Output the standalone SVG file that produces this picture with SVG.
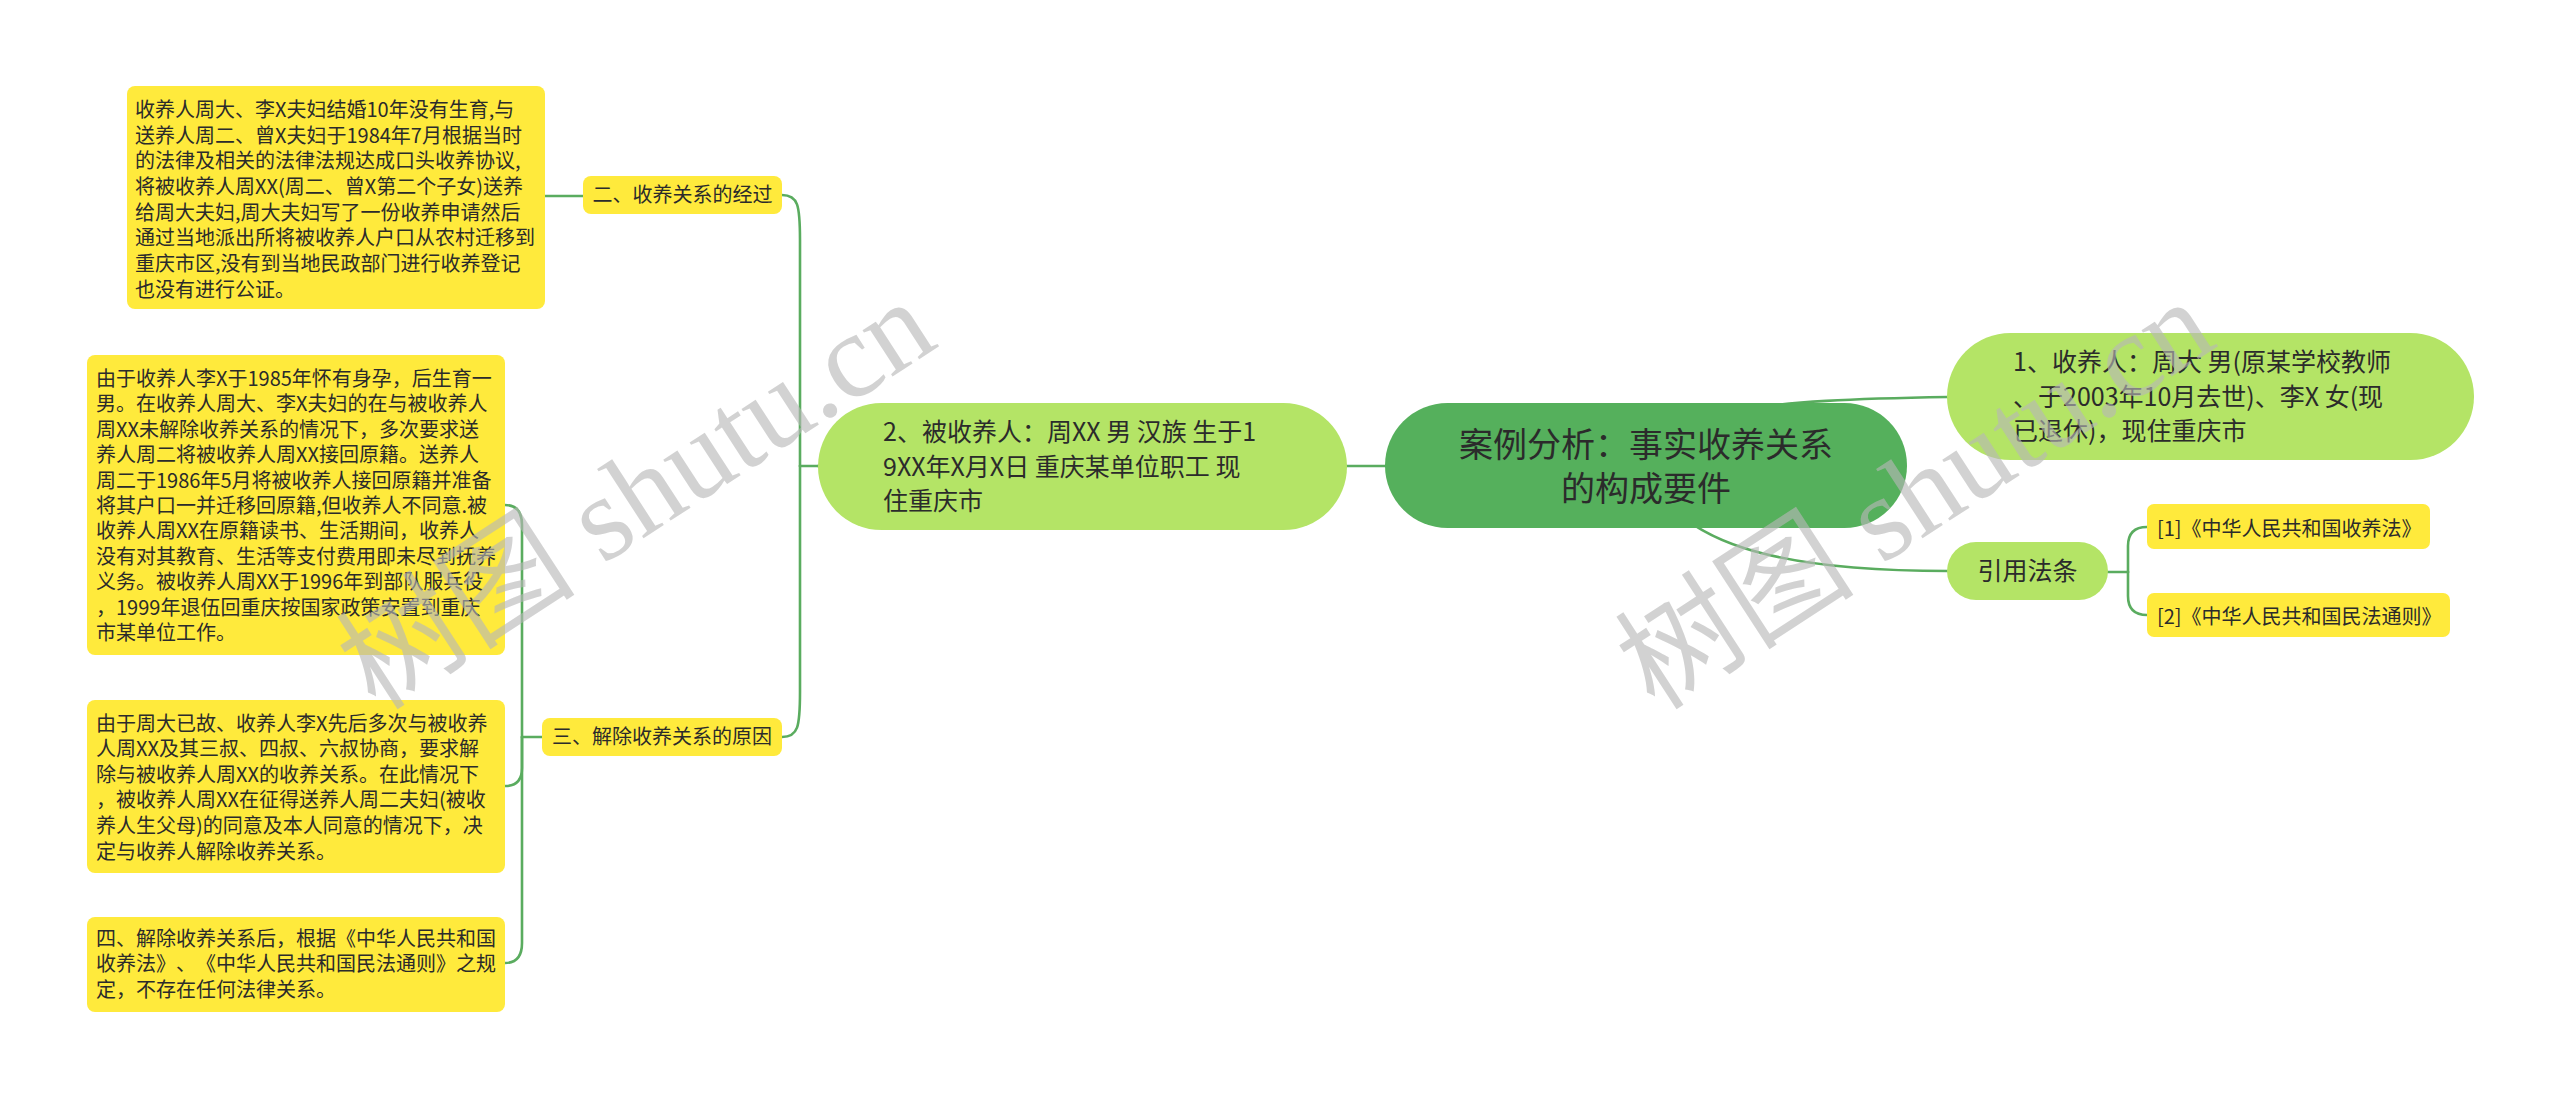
<svg xmlns="http://www.w3.org/2000/svg" width="2560" height="1099" viewBox="0 0 2560 1099">
<style>
text{font-family:"Noto Sans CJK SC","Noto Sans",sans-serif;fill:#2b2b2b;text-spacing-trim:space-all}
.conn{fill:none;stroke:#5aac5f;stroke-width:2.6;stroke-linecap:round}
.root{fill:#55b05c}
.lg{fill:#b4e466}
.yl{fill:#ffea3c}
.t20{font-size:20px}
.t25{font-size:25px}
.t34{font-size:34px}
.wm{font-family:"Liberation Serif","Noto Sans CJK SC",serif;font-size:120px;fill:#b8b8b8;opacity:0.62}
</style>
<rect width="2560" height="1099" fill="#ffffff"/>
<g id="connectors">
<path class="conn" d="M1646 466 L818 466"/>
<path class="conn" d="M1646 465 C1680 408 1760 400 1948 397"/>
<path class="conn" d="M1646 465 C1672 545 1780 571 1948 571"/>
<path class="conn" d="M818 466 L800 466"/>
<path class="conn" d="M800 466 L800 240 C800 205 798 195 782 195"/>
<path class="conn" d="M800 466 L800 692 C800 727 798 737 782 737"/>
<path class="conn" d="M583 196 L545 196"/>
<path class="conn" d="M542 737 L522 737"/>
<path class="conn" d="M522 737 L522 525 Q522 505 505 505"/>
<path class="conn" d="M522 737 L522 768 Q522 786 505 786"/>
<path class="conn" d="M522 737 L522 943 Q522 963 505 963"/>
<path class="conn" d="M2108 572 L2128 572"/>
<path class="conn" d="M2128 572 L2128 546 Q2128 527 2147 527"/>
<path class="conn" d="M2128 572 L2128 596 Q2128 615 2147 615"/>
</g>
<g id="root">
<rect class="root" x="1385" y="403" width="522" height="125" rx="62.5"/>
<text class="t34" x="1646" y="457" text-anchor="middle">案例分析：事实收养关系</text>
<text class="t34" x="1646" y="501" text-anchor="middle">的构成要件</text>
</g>
<g id="node-shouyangren">
<rect class="lg" x="1947" y="333" width="527" height="127" rx="63.5"/>
<text class="t25" x="2013" y="371">1、收养人：周大 男(原某学校教师</text>
<text class="t25" x="2013" y="405.5">、于2003年10月去世)、李X 女(现</text>
<text class="t25" x="2013" y="440">已退休)，现住重庆市</text>
</g>
<g id="node-beishouyangren">
<rect class="lg" x="818" y="403" width="529" height="127" rx="63.5"/>
<text class="t25" x="883" y="441">2、被收养人：周XX 男 汉族 生于1</text>
<text class="t25" x="883" y="475.5">9XX年X月X日 重庆某单位职工 现</text>
<text class="t25" x="883" y="510">住重庆市</text>
</g>
<g id="node-yinyong">
<rect class="lg" x="1947" y="542" width="161" height="58" rx="29"/>
<text class="t25" x="2027.5" y="580" text-anchor="middle">引用法条</text>
</g>
<g id="node-law1">
<rect class="yl" x="2147" y="504" width="283" height="45" rx="7"/>
<text class="t20" x="2157" y="536">[1]《中华人民共和国收养法》</text>
</g>
<g id="node-law2">
<rect class="yl" x="2147" y="593" width="303" height="44" rx="7"/>
<text class="t20" x="2157" y="624">[2]《中华人民共和国民法通则》</text>
</g>
<g id="node-jingguo">
<rect class="yl" x="583" y="176" width="199" height="38" rx="8"/>
<text class="t20" x="682.5" y="202" text-anchor="middle">二、收养关系的经过</text>
</g>
<g id="node-yuanyin">
<rect class="yl" x="542" y="718" width="240" height="38" rx="8"/>
<text class="t20" x="662" y="744" text-anchor="middle">三、解除收养关系的原因</text>
</g>
<g id="detail-1">
<rect class="yl" x="127" y="86" width="418" height="223" rx="8"/>
<text class="t20" x="135" y="117">收养人周大、李X夫妇结婚10年没有生育,与</text>
<text class="t20" x="135" y="143">送养人周二、曾X夫妇于1984年7月根据当时</text>
<text class="t20" x="135" y="168">的法律及相关的法律法规达成口头收养协议,</text>
<text class="t20" x="135" y="194">将被收养人周XX(周二、曾X第二个子女)送养</text>
<text class="t20" x="135" y="220">给周大夫妇,周大夫妇写了一份收养申请然后</text>
<text class="t20" x="135" y="245">通过当地派出所将被收养人户口从农村迁移到</text>
<text class="t20" x="135" y="271">重庆市区,没有到当地民政部门进行收养登记</text>
<text class="t20" x="135" y="297">也没有进行公证。</text>
</g>
<g id="detail-2">
<rect class="yl" x="87" y="355" width="418" height="300" rx="8"/>
<text class="t20" x="96" y="386">由于收养人李X于1985年怀有身孕，后生育一</text>
<text class="t20" x="96" y="411">男。在收养人周大、李X夫妇的在与被收养人</text>
<text class="t20" x="96" y="437">周XX未解除收养关系的情况下，多次要求送</text>
<text class="t20" x="96" y="462">养人周二将被收养人周XX接回原籍。送养人</text>
<text class="t20" x="96" y="488">周二于1986年5月将被收养人接回原籍并准备</text>
<text class="t20" x="96" y="513">将其户口一并迁移回原籍,但收养人不同意.被</text>
<text class="t20" x="96" y="538">收养人周XX在原籍读书、生活期间，收养人</text>
<text class="t20" x="96" y="564">没有对其教育、生活等支付费用即未尽到抚养</text>
<text class="t20" x="96" y="589">义务。被收养人周XX于1996年到部队服兵役</text>
<text class="t20" x="96" y="615">，1999年退伍回重庆按国家政策安置到重庆</text>
<text class="t20" x="96" y="640">市某单位工作。</text>
</g>
<g id="detail-3">
<rect class="yl" x="87" y="700" width="418" height="173" rx="8"/>
<text class="t20" x="96" y="731">由于周大已故、收养人李X先后多次与被收养</text>
<text class="t20" x="96" y="756">人周XX及其三叔、四叔、六叔协商，要求解</text>
<text class="t20" x="96" y="782">除与被收养人周XX的收养关系。在此情况下</text>
<text class="t20" x="96" y="807">，被收养人周XX在征得送养人周二夫妇(被收</text>
<text class="t20" x="96" y="833">养人生父母)的同意及本人同意的情况下，决</text>
<text class="t20" x="96" y="859">定与收养人解除收养关系。</text>
</g>
<g id="detail-4">
<rect class="yl" x="87" y="917" width="418" height="95" rx="8"/>
<text class="t20" x="96" y="946">四、解除收养关系后，根据《中华人民共和国</text>
<text class="t20" x="96" y="971">收养法》、《中华人民共和国民法通则》之规</text>
<text class="t20" x="96" y="997">定，不存在任何法律关系。</text>
</g>
<g id="watermark">
<text class="wm" transform="translate(376 712) rotate(-33)">树图 shutu.cn</text>
<text class="wm" transform="translate(1655 712) rotate(-33)">树图 shutu.cn</text>
</g>
</svg>
